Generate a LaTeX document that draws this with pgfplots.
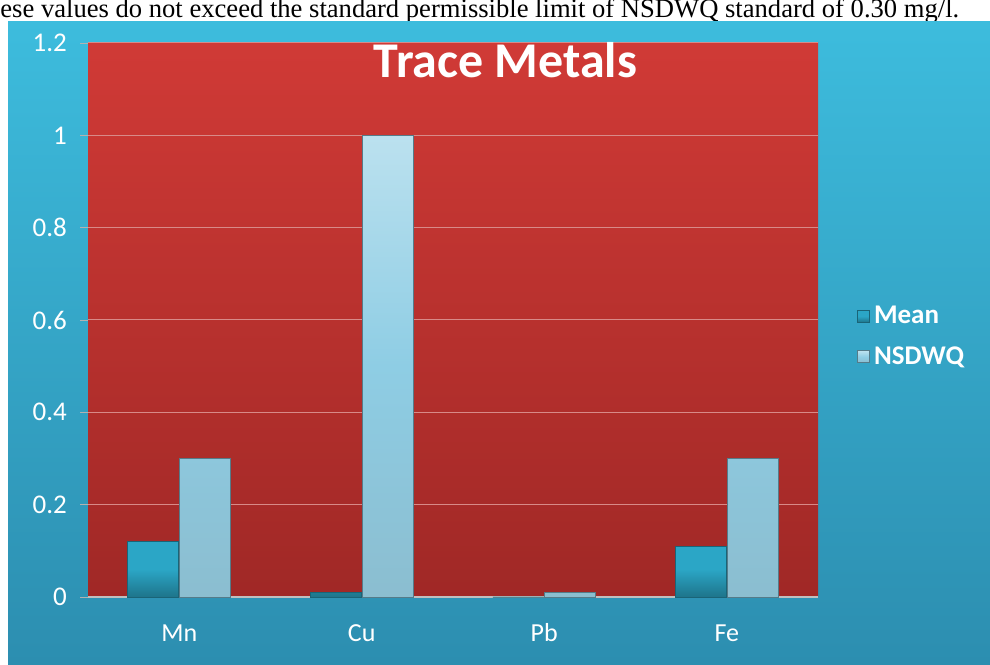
\documentclass[border=0pt]{standalone}
\usepackage{pgfplots}
\pgfplotsset{compat=1.18}
\usepackage{fontspec}
\setmainfont{Carlito}
\newfontfamily\seriffont{Liberation Serif}
\definecolor{bgtop}{HTML}{3DBCDD}
\definecolor{bgbot}{HTML}{2C8EB0}
\definecolor{redtop}{HTML}{D03A36}
\definecolor{redbot}{HTML}{A02826}
\definecolor{meanc}{HTML}{2BA6C6}
\definecolor{nsdc}{HTML}{8ECDE4}
\definecolor{gridc}{HTML}{D88A88}
\begin{document}
\begin{tikzpicture}
\clip (0,0) rectangle (495pt,332pt);
\fill[white] (0,0) rectangle (495pt,332pt);
\node[anchor=base west,inner sep=0pt,font=\seriffont\fontsize{13.3}{14}\selectfont] at (0pt,323pt) {ese values do not exceed the standard permissible limit of NSDWQ standard of 0.30 mg/l.};
\shade[top color=bgtop,bottom color=bgbot] (4pt,0) rectangle (495pt,321pt);
\begin{axis}[
  at={(44pt,33.5pt)}, anchor=south west,
  width=365pt, height=277pt, scale only axis,
  xmin=-0.5, xmax=3.5, ymin=0, ymax=1.2,
  ytick={0,0.2,...,1.2},
  yticklabels={0,0.2,0.4,0.6,0.8,1,1.2},
  xtick={0,1,2,3},
  xticklabels={Mn,Cu,Pb,Fe},
  extra x ticks={0.5,1.5,2.5},
  extra x tick labels={},
  extra x tick style={grid=none, major tick length=4pt, tick style={draw=gray!60}},
  axis background/.style={top color=redtop,bottom color=redbot},
  ybar, bar width=25.5pt,
  ymajorgrids, grid style={gridc, line width=0.5pt},
  axis x line*=bottom, axis y line*=left,
  x axis line style={draw=gray!50, line width=0.8pt},
  y axis line style={draw=none},
  x tick style={draw=none},
  y tick style={draw=gray!60},
  tick align=outside, major tick length=4pt,
  ticklabel style={text=white, font=\fontsize{13.5}{15}\selectfont},
  xticklabel style={yshift=-7pt, font=\fontsize{13}{14}\selectfont, text height=1.6ex, text depth=0.3ex},
  yticklabel style={xshift=-3pt},
  /pgf/number format/assume math mode=true,
  title={Trace Metals},
  title style={at={(0.572,1)}, anchor=north, yshift=-2pt, text=white, font=\bfseries\fontsize{25}{28}\selectfont},
  legend style={at={(1.045,0.47)}, anchor=west, draw=none, fill=none, text=white, font=\bfseries\fontsize{13.5}{15}\selectfont, row sep=6pt},
  legend cell align=left,
  legend image code/.code={\fill[#1] (0pt,-3pt) rectangle (6pt,3pt);},
  clip=false,
]
\addplot[fill=meanc, draw=meanc!60!black, bar shift=-13pt, bottom color=meanc!70!black, top color=meanc, middle color=meanc] coordinates {(0,0.12) (1,0.01) (2,0) (3,0.11)};
\addplot[fill=nsdc, draw=nsdc!60!black, bar shift=13pt, bottom color=nsdc!80!gray, top color=nsdc!60!white, middle color=nsdc] coordinates {(0,0.30) (1,1.00) (2,0.01) (3,0.30)};
\legend{Mean,NSDWQ}
\end{axis}
\end{tikzpicture}
\end{document}
